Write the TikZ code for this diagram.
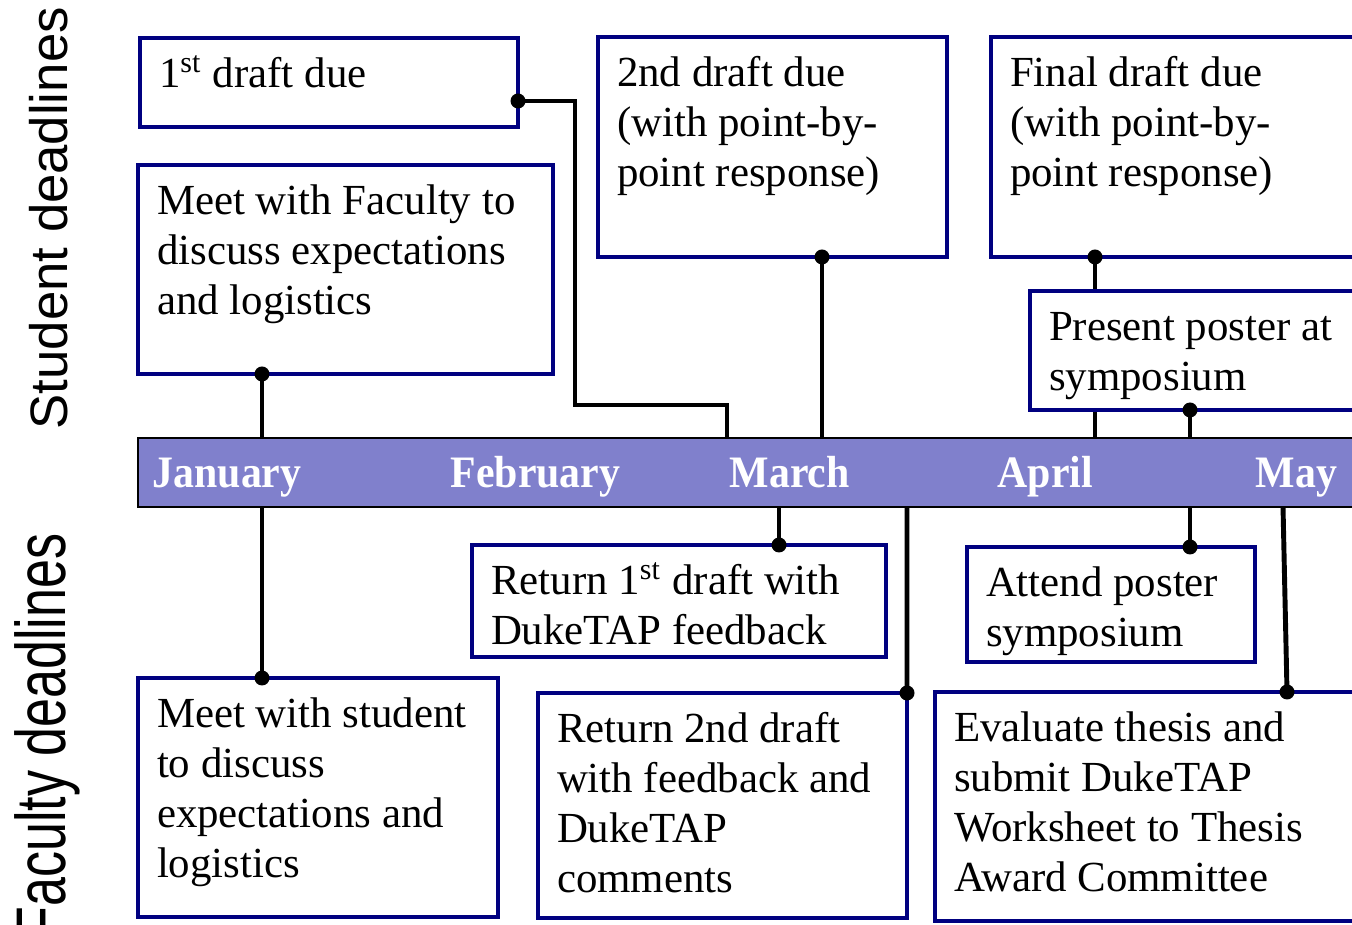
\documentclass[tikz,border=0pt]{standalone}
\usepackage{fontspec}
\usepackage{graphicx}
\setmainfont{Liberation Serif}
\newfontfamily\sidefont{Liberation Sans}
\newfontfamily\monthfont[FakeStretch=0.93]{Liberation Serif}
\usetikzlibrary{backgrounds}

\definecolor{boxblue}{RGB}{0,0,128}
\definecolor{barblue}{RGB}{128,128,204}

% text of a box: width, height (cm), lines
\newcommand{\evtext}[3]{\parbox[t][\dimexpr#2cm-0.3cm\relax][t]{\dimexpr#1cm-0.38cm\relax}{\raggedright\strut#3}}

\tikzset{
  evbox/.style={draw=boxblue, line width=1.15pt, fill=white, anchor=north west,
    inner xsep=0.19cm, inner ysep=0.15cm, outer sep=0pt,
    font=\fontsize{12.2}{14.2}\selectfont},
  bar/.style={draw=black, line width=0.6pt, fill=barblue, anchor=north west,
    minimum width=12.4cm, minimum height=0.69cm, outer sep=0pt},
  month/.style={anchor=base west, text=white, inner sep=0pt,
    font=\monthfont\bfseries\fontsize{12.8}{15}\selectfont},
  side/.style={rotate=90, inner sep=0pt, font=\sidefont},
  link/.style={line width=1.4pt}
}

\begin{document}
\begin{tikzpicture}
    \useasboundingbox (0,0) rectangle (13.52,9.24);
    \clip (0,0) rectangle (13.52,9.24);

    % Etiquetas laterales
    \node[side, anchor=base west] (stud) at (0.67,4.94) {\fontsize{15}{18}\selectfont Student deadlines};
    \node[side, anchor=base east] (fac) at (0.65,3.91) {\scalebox{0.74}[1]{\fontsize{20}{24}\selectfont Faculty deadlines}};

    % Barra de meses
    \node[bar] (bar) at (1.38,4.86) {};
    \node[month] (jan) at (1.52,4.36) {January};
    \node[month] (feb) at (4.50,4.36) {February};
    \node[month] (mar) at (7.29,4.36) {March};
    \node[month] (apr) at (9.97,4.36) {April};
    \node[month] (may) at (12.55,4.36) {May};

    % Cajas del estudiante
    \node[evbox] (draft1) at (1.40,8.86) {\evtext{3.78}{0.89}{1\textsuperscript{st} draft due}};
    \node[evbox] (meetfac) at (1.38,7.59) {\evtext{4.15}{2.09}{Meet with Faculty to\\discuss expectations\\and logistics}};
    \node[evbox] (draft2) at (5.98,8.87) {\evtext{3.49}{2.20}{2nd draft due\\(with point-by-\\point response)}};
    \node[evbox] (final) at (9.91,8.87) {\evtext{3.80}{2.20}{Final draft due\\(with point-by-\\point response)}};
    \node[evbox] (present) at (10.30,6.33) {\evtext{3.50}{1.19}{Present poster at\\symposium}};

    % Cajas de la facultad
    \node[evbox] (ret1) at (4.72,3.79) {\evtext{4.14}{1.12}{Return 1\textsuperscript{st} draft with\\DukeTAP feedback}};
    \node[evbox] (attend) at (9.67,3.77) {\evtext{2.88}{1.15}{Attend poster\\symposium}};
    \node[evbox] (meetstu) at (1.38,2.46) {\evtext{3.60}{2.39}{Meet with student\\to discuss\\expectations and\\logistics}};
    \node[evbox] (ret2) at (5.38,2.31) {\evtext{3.69}{2.25}{Return 2nd draft\\with feedback and\\DukeTAP\\comments}};
    \node[evbox] (evaluate) at (9.35,2.32) {\evtext{4.30}{2.29}{Evaluate thesis and\\submit DukeTAP\\Worksheet to Thesis\\Award Committee}};

    % Conectores
    \begin{scope}[on background layer]
        \draw[link] (meetfac.south -| 2.62,0) -- (bar.north -| 2.62,0);
        \draw[link] (draft1.east |- 0,8.23) -| (5.75,5.19) -| (bar.north -| 7.27,0);
        \draw[link] (draft2.south -| 8.22,0) -- (bar.north -| 8.22,0);
        \draw[link] (final.south -| 10.95,0) -- (bar.north -| 10.95,0);
        \draw[link] (present.south -| 11.90,0) -- (bar.north -| 11.90,0);
        \draw[link] (bar.south -| 2.62,0) -- (meetstu.north -| 2.62,0);
        \draw[link] (bar.south -| 7.79,0) -- (ret1.north -| 7.79,0);
        \draw[link] (bar.south -| 9.07,0) -- (ret2.north east);
        \draw[link] (bar.south -| 11.90,0) -- (attend.north -| 11.90,0);
        \draw[link] (bar.south -| 12.83,0) -- (evaluate.north -| 12.87,0);
    \end{scope}

    % Puntos
    \fill (meetfac.south -| 2.62,0) circle (0.075);
    \fill (draft1.east |- 0,8.23) circle (0.075);
    \fill (draft2.south -| 8.22,0) circle (0.075);
    \fill (final.south -| 10.95,0) circle (0.075);
    \fill (present.south -| 11.90,0) circle (0.075);
    \fill (meetstu.north -| 2.62,0) circle (0.075);
    \fill (ret1.north -| 7.79,0) circle (0.075);
    \fill (ret2.north east) circle (0.075);
    \fill (attend.north -| 11.90,0) circle (0.075);
    \fill (evaluate.north -| 12.87,0) circle (0.075);
\end{tikzpicture}
\end{document}
